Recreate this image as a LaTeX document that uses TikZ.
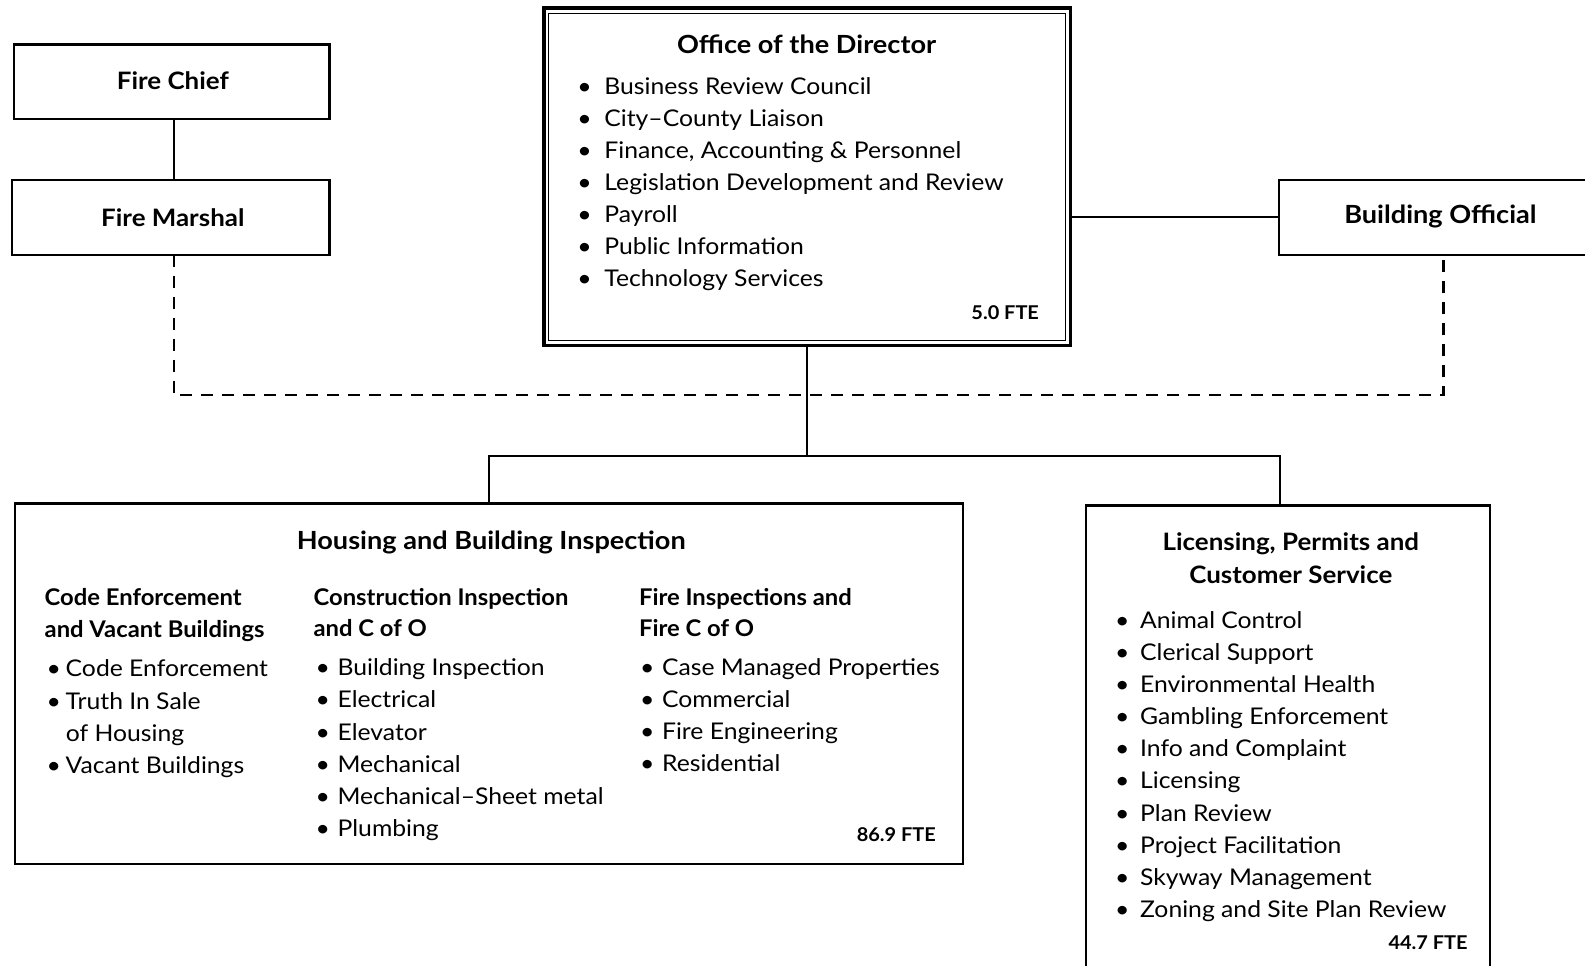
\documentclass[tikz,border=0pt]{standalone}
\usepackage{fontspec}
\setmainfont{Lato}
\usetikzlibrary{fit}
\newcommand\bitem[2]{\makebox[#1pt][l]{\textbullet}#2}
\begin{document}
\begin{tikzpicture}[x=1.0108pt,y=-1.0108pt,
  box/.style={draw,line width=2.3pt,inner sep=0pt,outer sep=0pt},
  conn/.style={line width=1.7pt},
  dline/.style={line width=2.1pt,dash pattern=on 12pt off 9pt},
  tx/.style={inner sep=0pt,anchor=base west,font=\fontsize{23}{28}\selectfont\addfontfeature{FakeStretch=1.075}},
  hd/.style={inner sep=0pt,anchor=base west,font=\fontsize{23}{28}\selectfont\bfseries\addfontfeature{FakeStretch=1.035}},
  ttl/.style={inner sep=0pt,anchor=base,font=\fontsize{24}{28}\selectfont\bfseries\addfontfeature{FakeStretch=1.08}},
  bigttl/.style={inner sep=0pt,anchor=base,font=\fontsize{25}{28}\selectfont\bfseries\addfontfeature{FakeStretch=1.085}},
  fte/.style={inner sep=0pt,anchor=base east,font=\fontsize{19}{24}\selectfont\bfseries\addfontfeature{FakeStretch=1.05}}]
\useasboundingbox (0,0) rectangle (1568,955);
% boxes
\node[box,fit={(14,44) (326,118)}] (chief) {};
\node[box,fit={(12,178) (326,252)}] (marshal) {};
\node[box,fit={(1265,178) (1585,252)}] (bo) {};
\node[box,line width=3.4pt,fit={(538,8) (1059,342)}] (dir) {};
\draw[line width=1.2pt] ([shift={(5,5)}]dir.north west) rectangle ([shift={(-5,-5)}]dir.south east);
\node[box,fit={(15,498) (953,855)}] (hbi) {};
\node[box,fit={(1074,500) (1474,990)}] (lpcs) {};
% connectors
\coordinate (jl) at (484,451);
\coordinate (jr) at (1266,451);
\coordinate (dl) at (172,391);
\coordinate (dr) at (1428,391);
\draw[conn] (chief.south -| dl) -- (marshal.north -| dl);
\draw[conn] (bo.west) -- (bo.west -| dir.east);
\draw[conn] (dir.south) -- (dir.south |- jl);
\draw[conn] (jl |- hbi.north) -- (jl) -- (jr) -- (jr |- lpcs.north);
\draw[dline] (marshal.south -| dl) -- (dl) -- (dr) -- (dr |- bo.south);
% titles
\node[ttl] (chieft) at (171,89) {Fire Chief};
\node[ttl] (marshalt) at (171,224) {Fire Marshal};
\node[bigttl] (bot) at (1425,221) {Building Official};
\node[bigttl] (dirt) at (798,53) {Office of the Director};
\node[bigttl] (hbit) at (486,544) {Housing and Building Inspection};
\node[ttl] (lpcst1) at (1277,545) {Licensing, Permits and};
\node[ttl] (lpcst2) at (1277,577) {Customer Service};
% director items
\foreach \t [count=\i] in {Business Review Council, City–County Liaison, {Finance, Accounting \& Personnel}, Legislation Development and Review, Payroll, Public Information, Technology Services}
  \node[tx] (d\i) at (571,{93.5+31.67*(\i-1)}) {\bitem{27}{\t}};
\node[fte] (dfte) at (1028,316) {5.0 FTE};
% HBI col 1
\node[hd] (c1a) at (44,599) {Code Enforcement};
\node[hd] (c1b) at (44,631) {and Vacant Buildings};
\node[tx] (c1i1) at (46,669.5) {\bitem{19}{Code Enforcement}};
\node[tx] (c1i2) at (46,701.5) {\bitem{19}{Truth In Sale}};
\node[tx] (c1i3) at (65,733.5) {of Housing};
\node[tx] (c1i4) at (46,765.5) {\bitem{19}{Vacant Buildings}};
% HBI col 2
\node[hd] (c2a) at (310,599) {Construction Inspection};
\node[hd] (c2b) at (310,630) {and C of O};
\foreach \t [count=\i] in {Building Inspection, Electrical, Elevator, Mechanical, Mechanical–Sheet metal, Plumbing}
  \node[tx] (c2i\i) at (312,{668.5+31.8*(\i-1)}) {\bitem{22}{\t}};
% HBI col 3
\node[hd] (c3a) at (632,599) {Fire Inspections and};
\node[hd] (c3b) at (632,630) {Fire C of O};
\foreach \t [count=\i] in {Case Managed Properties, Commercial, Fire Engineering, Residential}
  \node[tx] (c3i\i) at (633,{668.5+31.7*(\i-1)}) {\bitem{22}{\t}};
\node[fte] (hfte) at (926,832) {86.9 FTE};
% LPCS items
\foreach \t [count=\i] in {Animal Control, Clerical Support, Environmental Health, Gambling Enforcement, Info and Complaint, Licensing, Plan Review, Project Facilitation, Skyway Management, Zoning and Site Plan Review}
  \node[tx] (l\i) at (1103,{622+31.7*(\i-1)}) {\bitem{25}{\t}};
\node[fte] (lfte) at (1452,939) {44.7 FTE};
\end{tikzpicture}
\end{document}
